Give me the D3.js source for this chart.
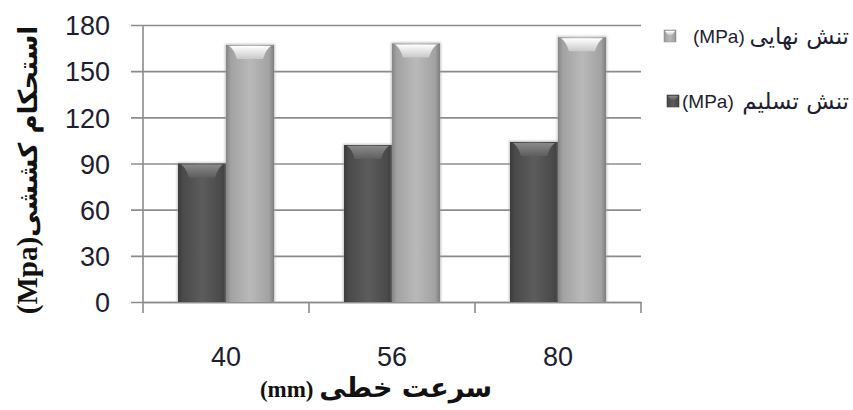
<!DOCTYPE html>
<html>
<head>
<meta charset="utf-8">
<script src="https://cdn.jsdelivr.net/npm/d3@7"></script>
<style>
  html, body { margin: 0; padding: 0; background: #fff; }
  svg { display: block; }
</style>
</head>
<body>
<svg id="chart" width="853" height="410"></svg>
<script>
// Tensile strength by line speed
const categories = ["40", "56", "80"];
const seriesKeys = ["yield", "ultimate"];
const yieldStress = [90, 102, 104];      // تنش تسلیم (MPa)
const ultimateStress = [167, 168, 172];  // تنش نهایی (MPa)
const yTicks = [0, 30, 60, 90, 120, 150, 180];
const legendNames = ["تنش نهایی", "تنش تسلیم"];
const legendUnit = "(MPa)";
const xTitleName = "سرعت خطی";
const xTitleUnit = "(mm)";
const yTitleName = "استحکام کششی";
const yTitleUnit = "(Mpa)";

const svg = d3.select("#chart");
const gridColor = "#8c8c8c";
const labelColor = "#1e1e32";
const latin = "'Liberation Sans', Arial, sans-serif";
const arabic = "'DejaVu Sans', sans-serif";
const serif = "'Liberation Serif', 'Times New Roman', serif";

const plot = { left: 143, right: 641, top: 25, bottom: 302 };

const y = d3.scaleLinear().domain([0, 180]).range([plot.bottom, plot.top]);
const x0 = d3.scaleBand().domain(categories).range([plot.left, plot.right]).padding(0);
const x1 = d3.scaleBand().domain(seriesKeys).range([0, x0.bandwidth()])
  .paddingInner(0).paddingOuter(0.73);

// gradients
const defs = svg.append("defs");
function grad(id, vertical, stops) {
  const g = defs.append("linearGradient").attr("id", id)
    .attr("x1", "0%").attr("y1", "0%")
    .attr("x2", vertical ? "0%" : "100%").attr("y2", vertical ? "100%" : "0%");
  stops.forEach(([o, c]) => g.append("stop").attr("offset", o).attr("stop-color", c));
}
grad("bodyDark", false, [["0%", "#3a3a3a"], ["10%", "#4a4a4a"], ["50%", "#5c5c5c"], ["90%", "#4a4a4a"], ["100%", "#363636"]]);
grad("bodyLight", false, [["0%", "#858585"], ["10%", "#a2a2a2"], ["50%", "#b9b9b9"], ["90%", "#a2a2a2"], ["100%", "#7e7e7e"]]);
grad("capDark", true, [["0%", "#8a8a8a"], ["100%", "#5e5e5e"]]);
grad("capLight", true, [["0%", "#ffffff"], ["100%", "#c8c8c8"]]);
defs.append("filter").attr("id", "soft").append("feGaussianBlur").attr("stdDeviation", 1.2);

// horizontal gridlines (extend left past the axis as tick marks)
svg.append("g")
  .attr("transform", `translate(${plot.right},0)`)
  .call(d3.axisLeft(y).tickValues(yTicks).tickSize(plot.right - 131).tickFormat(""))
  .call(g => g.select(".domain").remove())
  .call(g => g.selectAll(".tick line").attr("stroke", gridColor).attr("stroke-width", 1.6));

// y tick labels
svg.append("g")
  .attr("transform", `translate(${plot.left},0)`)
  .call(d3.axisLeft(y).tickValues(yTicks).tickSize(12).tickPadding(21))
  .call(g => g.select(".domain").remove())
  .call(g => g.selectAll(".tick line").remove())
  .call(g => g.selectAll(".tick text")
    .attr("fill", labelColor)
    .attr("font-family", latin)
    .attr("font-size", 27)
    .attr("dy", "0.36em"));

// y axis line
svg.append("line")
  .attr("x1", plot.left).attr("x2", plot.left)
  .attr("y1", plot.top).attr("y2", plot.bottom + 11)
  .attr("stroke", gridColor).attr("stroke-width", 1.6);

// x axis with labels at category centres
svg.append("g")
  .attr("transform", `translate(0,${plot.bottom})`)
  .call(d3.axisBottom(x0).tickSize(0).tickPadding(64).tickSizeOuter(0))
  .call(g => g.select(".domain").attr("stroke", gridColor).attr("stroke-width", 1.6))
  .call(g => g.selectAll(".tick text")
    .attr("fill", labelColor)
    .attr("font-family", latin)
    .attr("font-size", 27)
    .attr("dy", "0"));

// category boundary ticks
svg.append("g").selectAll("line")
  .data(categories)
  .join("line")
  .attr("x1", d => x0(d) + x0.bandwidth())
  .attr("x2", d => x0(d) + x0.bandwidth())
  .attr("y1", plot.bottom).attr("y2", plot.bottom + 11)
  .attr("stroke", gridColor).attr("stroke-width", 1.6);

// bars
const rows = categories.map((c, i) => ({ c, yield: yieldStress[i], ultimate: ultimateStress[i] }));
const groups = svg.append("g").selectAll("g")
  .data(rows).join("g")
  .attr("transform", d => `translate(${x0(d.c)},0)`);

const bars = groups.selectAll("g")
  .data(d => seriesKeys.map(k => ({ key: k, value: d[k] })))
  .join("g");

const bw = x1.bandwidth();
// soft halo
bars.append("rect")
  .attr("x", d => x1(d.key) - 1)
  .attr("y", d => y(d.value) - 1)
  .attr("width", bw + 2)
  .attr("height", d => y(0) - y(d.value) + 1)
  .attr("fill", "#9a9a9a")
  .attr("opacity", 0.6)
  .attr("filter", "url(#soft)");
bars.append("rect")
  .attr("x", d => x1(d.key))
  .attr("y", d => y(d.value))
  .attr("width", bw)
  .attr("height", d => y(0) - y(d.value))
  .attr("fill", d => d.key === "yield" ? "url(#bodyDark)" : "url(#bodyLight)");
// bevelled cap
bars.append("path")
  .attr("d", d => {
    const x = x1(d.key), t = y(d.value);
    return `M${x + 3},${t + 1} L${x + bw - 3},${t + 1} Q${x + bw - 8},${t + 4} ${x + bw - 11},${t + 14} L${x + 11},${t + 14} Q${x + 8},${t + 4} ${x + 3},${t + 1} Z`;
  })
  .attr("fill", d => d.key === "yield" ? "url(#capDark)" : "url(#capLight)");

// legend
const legendItems = [
  { name: legendNames[0], key: "ultimate", y: 36, mx: 664, ux: 693 },
  { name: legendNames[1], key: "yield", y: 101, mx: 667, ux: 682 }
];
const lg = svg.append("g").selectAll("g").data(legendItems).join("g");
lg.append("rect")
  .attr("x", d => d.mx).attr("y", d => d.y - 6)
  .attr("width", 12).attr("height", 12)
  .attr("fill", d => d.key === "yield" ? "url(#bodyDark)" : "url(#bodyLight)")
  .attr("stroke", d => d.key === "yield" ? "#444" : "#999").attr("stroke-width", 0.6);
lg.append("path")
  .attr("d", d => `M${d.mx + 1},${d.y - 5} L${d.mx + 11},${d.y - 5} L${d.mx + 8},${d.y - 1} L${d.mx + 4},${d.y - 1} Z`)
  .attr("fill", d => d.key === "yield" ? "url(#capDark)" : "url(#capLight)");
lg.append("text")
  .attr("x", d => d.ux).attr("y", d => d.y)
  .attr("dy", "0.35em")
  .attr("fill", labelColor)
  .attr("font-family", latin)
  .attr("font-size", 19)
  .text(legendUnit);
lg.append("text")
  .attr("x", 849).attr("y", d => d.y)
  .attr("dy", "0.35em")
  .attr("text-anchor", "end")
  .attr("fill", labelColor)
  .attr("font-family", arabic)
  .attr("font-size", 23)
  .text(d => d.name);

// axis titles: unit on the left, Persian name on the right
const xt = svg.append("text")
  .attr("x", 376).attr("y", 397)
  .attr("text-anchor", "middle")
  .attr("fill", "#111")
  .attr("font-weight", "bold");
xt.append("tspan").attr("font-family", serif).attr("font-size", 23).text(xTitleUnit + " ");
xt.append("tspan").attr("font-family", arabic).attr("font-size", 27).text(xTitleName);

const yt = svg.append("text")
  .attr("transform", "translate(37,170) rotate(-90)")
  .attr("text-anchor", "middle")
  .attr("fill", "#111")
  .attr("font-weight", "bold");
yt.append("tspan").attr("font-family", serif).attr("font-size", 29).text(yTitleUnit);
yt.append("tspan").attr("font-family", arabic).attr("font-size", 26).text(yTitleName);
</script>
</body>
</html>
